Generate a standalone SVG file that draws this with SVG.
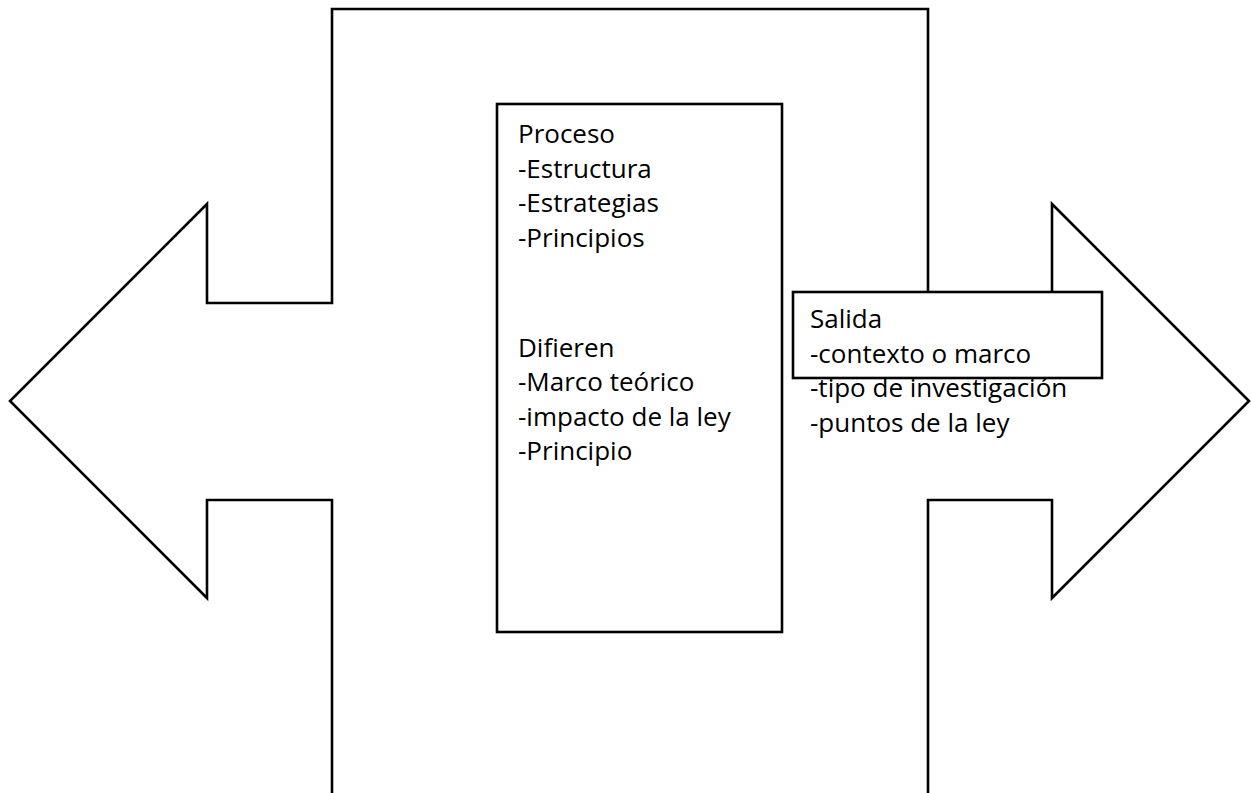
<svg xmlns="http://www.w3.org/2000/svg" width="1251" height="793" viewBox="0 0 1251 793">
<style>
.ln{fill:none;stroke:#000;stroke-width:2.6;stroke-linejoin:miter}
.bx{fill:#fff;stroke:#000;stroke-width:2.6}
.t{font-family:"Open Sans","Liberation Sans",Arial,sans-serif;font-size:26px;fill:#000}
</style>
<rect width="1251" height="793" fill="#fff"/>
<g id="cross-arrow">
<path class="ln" d="M332,796 V500 H207 V598 L10,401 L207,204 V303 H332 V9 H928 V303 H1052 V204 L1249,401 L1052,598 V500 H928 V796"/>
</g>
<g id="proceso">
<rect class="bx" x="497" y="104" width="285" height="528"/>
<text class="t" x="518" y="143">Proceso</text>
<text class="t" x="518" y="178">-Estructura</text>
<text class="t" x="518" y="212">-Estrategias</text>
<text class="t" x="518" y="247">-Principios</text>
<text class="t" x="518" y="357">Difieren</text>
<text class="t" x="518" y="391">-Marco teórico</text>
<text class="t" x="518" y="426">-impacto de la ley</text>
<text class="t" x="518" y="460">-Principio</text>
</g>
<g id="salida">
<rect class="bx" x="793" y="292" width="309" height="86"/>
<text class="t" x="810" y="328">Salida</text>
<text class="t" x="810" y="363">-contexto o marco</text>
<text class="t" x="810" y="397">-tipo de investigación</text>
<text class="t" x="810" y="432">-puntos de la ley</text>
</g>
<g id="connectors"></g>
</svg>
